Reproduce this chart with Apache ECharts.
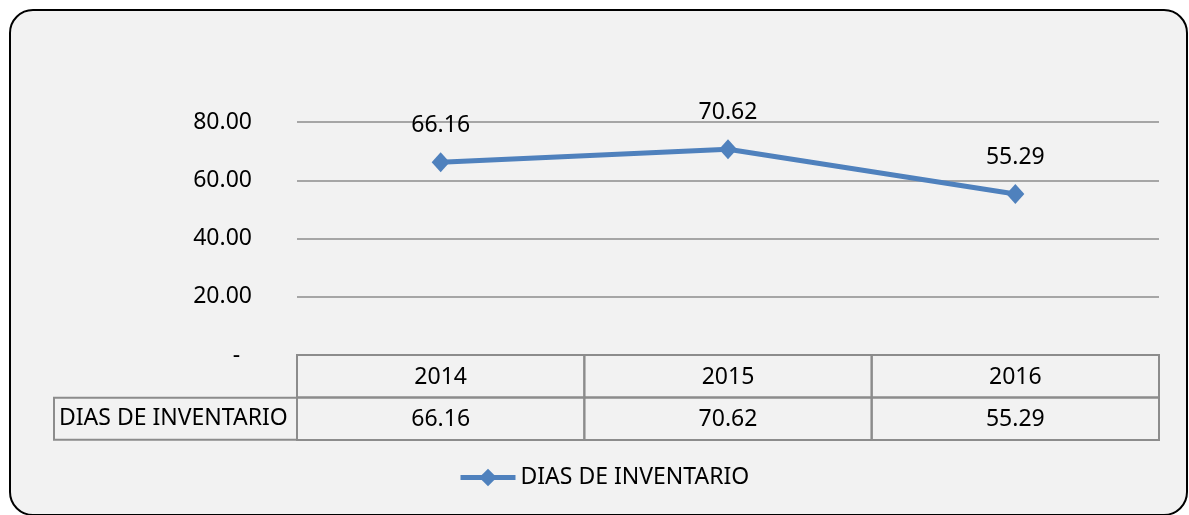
<!DOCTYPE html>
<html>
<head>
<meta charset="utf-8">
<script src="https://cdn.jsdelivr.net/npm/echarts@6/dist/echarts.min.js"></script>
<style>
  html, body { margin: 0; padding: 0; background: #ffffff; }
  #frame {
    position: absolute; left: 9px; top: 9px; width: 1175px; height: 503px;
    border: 2px solid #000; border-radius: 24px; background: #f2f2f2;
  }
  #chart { position: absolute; left: 0; top: 0; width: 1189px; height: 515px; }
</style>
</head>
<body>
<div id="frame"></div>
<div id="chart"></div>
<script>
const years = ["2014", "2015", "2016"];
const dias = [66.16, 70.62, 55.29];
const seriesName = "DIAS DE INVENTARIO";
const tableRows = ["", seriesName];

const FONT = "Noto Sans";
const FS = 23;
const BLUE = "#4f81bd";
const GRID_GRAY = "#8c8c8c";

// table cells: [column, row]  row 0 = years, row 1 = values
const tableCells = [];
years.forEach((y, i) => {
  tableCells.push([i, 0]);
  tableCells.push([i, 1]);
});

const chart = echarts.init(document.getElementById("chart"));
const option = {
  backgroundColor: "transparent",
  textStyle: { fontFamily: FONT },
  legend: {
    data: [seriesName],
    left: 453,
    top: 461,
    itemWidth: 55,
    itemHeight: 22,
    itemGap: 10,
    lineStyle: { width: 5, color: BLUE },
    itemStyle: { color: BLUE },
    textStyle: { fontFamily: FONT, fontSize: FS, color: "#000" },
  },
  grid: [
    { left: 297, right: 30, top: 122, height: 233 },
    { left: 297, right: 30, top: 355, height: 85 },
  ],
  xAxis: [
    {
      type: "category",
      gridIndex: 0,
      data: years,
      boundaryGap: true,
      axisLine: { show: false },
      axisTick: { show: false },
      axisLabel: { show: false },
    },
    {
      type: "category",
      gridIndex: 1,
      data: years,
      boundaryGap: true,
      show: false,
    },
  ],
  yAxis: [
    {
      type: "value",
      gridIndex: 0,
      min: 0,
      max: 80,
      interval: 20,
      axisLine: { show: false },
      axisTick: { show: false },
      axisLabel: {
        margin: 45,
        fontFamily: FONT,
        fontSize: FS,
        color: "#000",
        formatter: (v) => (v === 0 ? "-  " : v.toFixed(2)),
      },
      splitLine: { lineStyle: { color: GRID_GRAY, width: 1.5 } },
    },
    {
      type: "category",
      gridIndex: 1,
      data: tableRows,
      inverse: true,
      axisLine: { show: false },
      axisTick: { show: false },
      splitLine: { show: false },
      axisLabel: {
        margin: 0,
        formatter: (v) => (v ? "{b|" + v + "}" : ""),
        rich: {
          b: {
            fontFamily: FONT,
            fontSize: FS,
            color: "#000",
            borderColor: GRID_GRAY,
            borderWidth: 2,
            width: 233,
            height: 42,
            lineHeight: 42,
            padding: [0, 5, 0, 5],
            align: "left",
          },
        },
      },
    },
  ],
  series: [
    {
      name: seriesName,
      type: "line",
      xAxisIndex: 0,
      yAxisIndex: 0,
      data: dias,
      symbol: "diamond",
      symbolSize: [18, 20],
      lineStyle: { color: BLUE, width: 5 },
      itemStyle: { color: BLUE },
      label: {
        show: true,
        position: "top",
        distance: 15,
        fontFamily: FONT,
        fontSize: FS,
        color: "#000",
        formatter: (p) => p.value.toFixed(2),
      },
      z: 5,
    },
    {
      type: "custom",
      xAxisIndex: 1,
      yAxisIndex: 1,
      data: tableCells,
      silent: true,
      renderItem: (params, api) => {
        const col = api.value(0);
        const row = api.value(1);
        const c = api.coord([col, row]);
        const s = api.size([1, 1]);
        const text = row === 0 ? years[col] : dias[col].toFixed(2);
        return {
          type: "group",
          children: [
            {
              type: "rect",
              shape: { x: c[0] - s[0] / 2, y: c[1] - s[1] / 2, width: s[0], height: s[1] },
              style: { fill: "none", stroke: GRID_GRAY, lineWidth: 2 },
            },
            {
              type: "text",
              style: {
                text: text,
                x: c[0],
                y: c[1] + 1,
                align: "center",
                verticalAlign: "middle",
                font: FS + 'px "Noto Sans"',
                fill: "#000",
              },
            },
          ],
        };
      },
    },
  ],
};
chart.setOption(option);
</script>
</body>
</html>
